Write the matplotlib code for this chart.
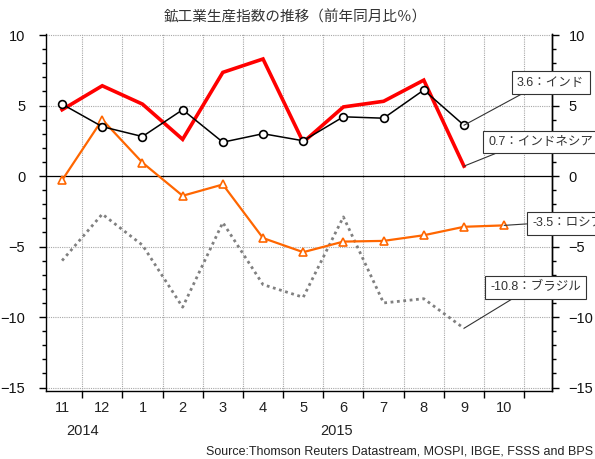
import matplotlib
matplotlib.use("Agg")
import matplotlib.pyplot as plt
import numpy as np
from matplotlib.ticker import FixedLocator, FixedFormatter, NullFormatter

plt.rcParams['font.family'] = ['Liberation Sans', 'Noto Sans CJK JP', 'DejaVu Sans']

months = ['11', '12', '1', '2', '3', '4', '5', '6', '7', '8', '9', '10']
india = [5.1, 3.5, 2.8, 4.7, 2.4, 3.0, 2.5, 4.2, 4.1, 6.1, 3.6]
indonesia = [4.7, 6.4, 5.1, 2.6, 7.35, 8.3, 2.4, 4.9, 5.3, 6.8, 0.7]
russia = [-0.3, 4.0, 0.95, -1.4, -0.6, -4.4, -5.4, -4.65, -4.6, -4.2, -3.6, -3.5]
brazil = [-6.0, -2.7, -4.9, -9.3, -3.3, -7.7, -8.6, -2.9, -9.0, -8.7, -10.8]
years = ['2014', '2015']
yticks = [10, 5, 0, -5, -10, -15]
title = '鉱工業生産指数の推移（前年同月比％）'
source = 'Source:Thomson Reuters Datastream, MOSPI, IBGE, FSSS and BPS'

fig = plt.figure(figsize=(5.95, 4.59), dpi=100)
ax = fig.add_axes([0.0773, 0.148, 0.9277 - 0.0773, 0.9268 - 0.148])

xi = np.arange(len(india))
xr = np.arange(len(russia))

ax.plot(xi[:len(brazil)], brazil, color='#808080', lw=2.0, linestyle=(0, (1, 1.3)), zorder=3)
ax.plot(xr, russia, color='#FF6600', lw=1.6, marker='^', markersize=5.8,
        markerfacecolor='white', markeredgecolor='#FF6600', markeredgewidth=1.2, zorder=4)
ax.plot(xi, indonesia, color='#FF0000', lw=2.6, zorder=5, solid_joinstyle='miter')
ax.plot(xi, india, color='black', lw=1.1, marker='o', markersize=5.6,
        markerfacecolor='white', markeredgecolor='black', markeredgewidth=1.2, zorder=6)

ax.set_xlim(-0.4, 12.19)
ax.set_ylim(-15.25, 10.1)

# grid
for y in [10, 5, -5, -10, -15]:
    ax.axhline(y, color='#a8a8a8', lw=0.8, linestyle=(0, (1, 1)), zorder=1)
ax.axhline(0, color='black', lw=0.9, zorder=2)
bounds = np.arange(len(months)) + 0.5
for b in bounds:
    ax.axvline(b, color='#a8a8a8', lw=0.8, linestyle=(0, (1, 1)), zorder=1)

ax.spines['top'].set_visible(False)
for s in ['left', 'right', 'bottom']:
    ax.spines[s].set_color('black')
    ax.spines[s].set_linewidth(1.0)

# left y ticks
ax.set_yticks(yticks)
ax.set_yticks(np.arange(-15, 11, 1), minor=True)
ax.tick_params(axis='y', which='major', left=True, right=False, labelleft=True, labelright=False,
               length=5, width=1, labelsize=10.5, direction='out', pad=10, labelcolor='#111111')
ax.tick_params(axis='y', which='minor', left=True, right=False, length=3, width=1, direction='out')

# right y axis (same scale)
ax2 = ax.twinx()
ax2.set_ylim(ax.get_ylim())
ax2.set_yticks(yticks)
ax2.set_yticks(np.arange(-15, 11, 1), minor=True)
ax2.tick_params(axis='y', which='major', length=5, width=1, labelsize=10.5, direction='out',
                pad=7, labelcolor='#111111')
ax2.tick_params(axis='y', which='minor', length=3, width=1, direction='out')
for s in ['top', 'left', 'bottom']:
    ax2.spines[s].set_visible(False)
ax2.spines['right'].set_linewidth(1.0)
ax2.set_zorder(ax.get_zorder() - 1)
ax.patch.set_visible(False)

# x ticks: boundaries as major ticks (no labels), month labels at centers
ax.xaxis.set_major_locator(FixedLocator(bounds))
ax.xaxis.set_major_formatter(NullFormatter())
ax.xaxis.set_minor_locator(FixedLocator(np.arange(len(months))))
ax.xaxis.set_minor_formatter(FixedFormatter(months))
ax.tick_params(axis='x', which='major', length=5, width=1, direction='out')
ax.tick_params(axis='x', which='minor', length=0, pad=7, labelsize=10.5, labelcolor='#222222')

# year labels
ax.text(0.52, -18.1, years[0], ha='center', va='center', fontsize=10.5, color='#222222', clip_on=False)
ax.text(6.84, -18.1, years[1], ha='center', va='center', fontsize=10.5, color='#222222', clip_on=False)

fig.text(0.496, 1 - 17 / 459, title, ha='center', va='center', fontsize=10.5,
         color='#333333', family=['Noto Sans CJK JP', 'DejaVu Sans'])
fig.text(593 / 595, 1 - 452 / 459, source, ha='right', va='center', fontsize=9, color='#222222')

# annotation boxes
bbox = dict(boxstyle='square,pad=0.42', facecolor='white', edgecolor='#333333', lw=0.8)
labels = [
    (f'{india[-1]}：インド', (len(india) - 1, india[-1]), (11.32, 6.63), (0.22, 0.0)),
    (f'{indonesia[-1]}：インドネシア', (len(indonesia) - 1, indonesia[-1]), (10.6, 2.41), (0.2, 0.0)),
    (f'{russia[-1]}：ロシア', (len(russia) - 1, russia[-1]), (11.7, -3.37), (0.0, 0.5)),
    (f'{brazil[-1]}：ブラジル', (len(brazil) - 1, brazil[-1]), (10.65, -7.91), (0.34, 0.0)),
]
for txt, xy, xyt, rp in labels:
    ax.annotate(txt, xy=xy, xytext=xyt, textcoords='data', ha='left', va='center',
                fontsize=9, color='#333333', bbox=bbox, annotation_clip=False, zorder=10,
                arrowprops=dict(arrowstyle='-', color='#333333', lw=0.8, relpos=rp,
                                shrinkA=0, shrinkB=0))

fig.savefig('out.png', dpi=100)
